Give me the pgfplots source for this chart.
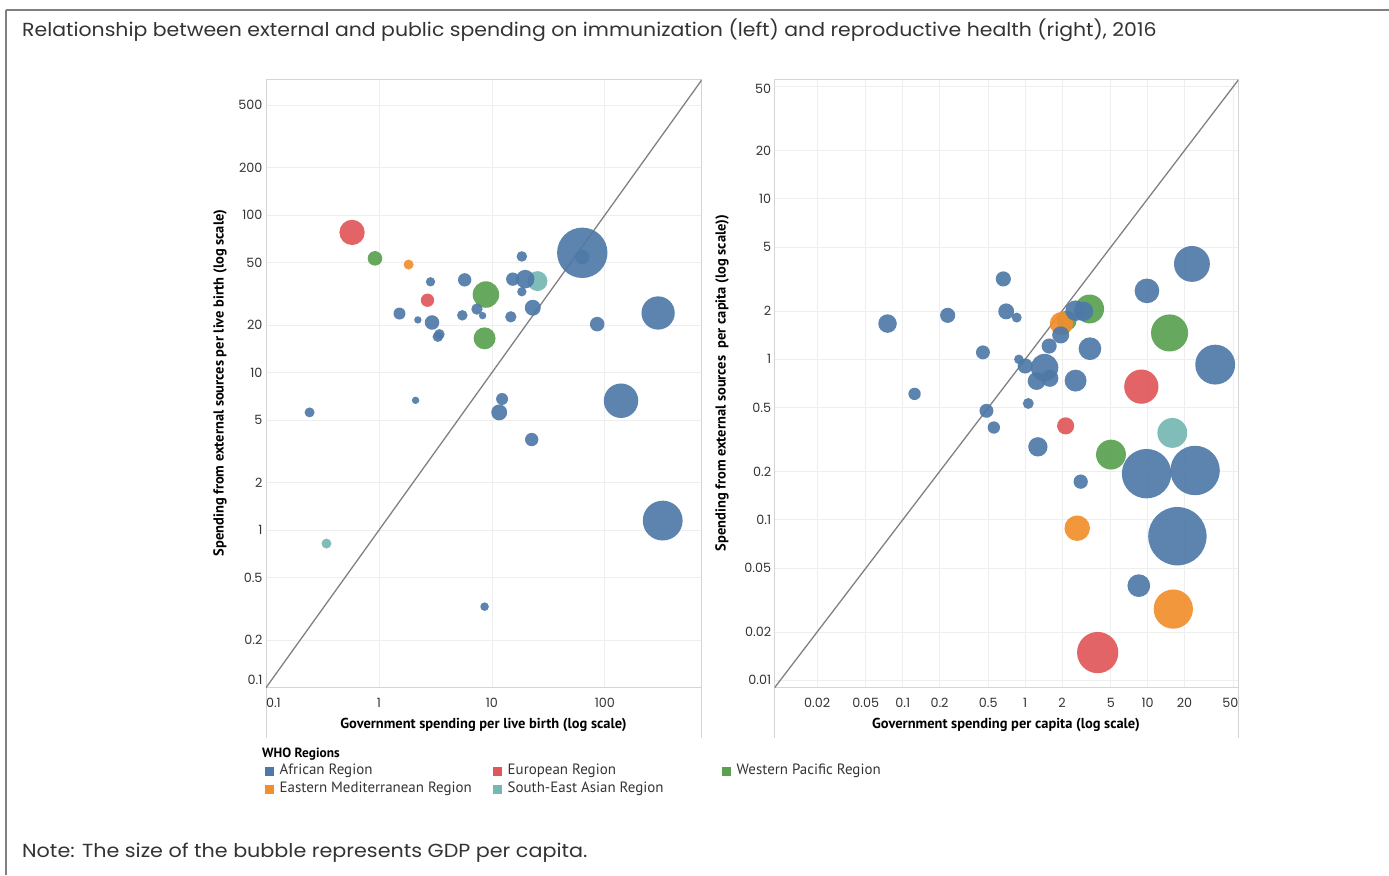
\documentclass[border=0pt]{standalone}
\usepackage{pgfplots}
\pgfplotsset{compat=1.18}
\usepackage{pgfplotstable}
\usepackage{fontspec}
\setmainfont{Poppins}
\newfontfamily\condfont{PT Sans}
\definecolor{afr}{HTML}{4E79A7}
\definecolor{eur}{HTML}{E15759}
\definecolor{emr}{HTML}{F28E2B}
\definecolor{sear}{HTML}{76B7B2}
\definecolor{wpr}{HTML}{59A14F}
\definecolor{framec}{HTML}{D4D4D4}
\definecolor{gridc}{HTML}{EEEEEE}
\definecolor{txt}{HTML}{333333}
\newcommand{\tfont}{\fontsize{12.8}{14}\selectfont}

% ---- left panel (immunization) ----
\pgfplotstableread{
x y r
2.86 37.7 4.7
5.74 38.8 6.7
1.52 23.7 6
2.21 21.6 3.7
2.95 20.8 7.3
3.43 17.5 5.3
3.32 16.9 5.3
5.47 23.1 5.3
7.37 25.3 5.7
8.27 23.0 3.7
14.7 22.6 5.7
15.3 39.2 6.7
18.4 54.6 5.3
18.4 32.6 4.7
19.7 39.2 9.3
23.0 25.8 8
63.1 57.6 25.3
63.1 54.3 7.3
85.5 20.3 7.3
296 23.9 16.7
139 6.63 17.3
12.3 6.80 6
11.6 5.59 8
2.11 6.67 3.7
0.243 5.59 5
22.5 3.76 6.7
325 1.15 20
8.61 0.327 4.3
}\LAfr
\pgfplotstableread{
x y r
0.578 77.6 12.7
2.69 28.8 6.7
}\LEur
\pgfplotstableread{
x y r
1.83 48.5 5
}\LEmr
\pgfplotstableread{
x y r
25.3 38.1 10
0.343 0.822 5
}\LSear
\pgfplotstableread{
x y r
0.922 53.1 7.3
8.85 31.3 13.3
8.61 16.5 11
}\LWpr

% ---- right panel (reproductive health) ----
\pgfplotstableread{
x y r
0.0752 1.67 9.3
0.233 1.88 7.6
0.663 3.17 7.6
0.700 1.99 8
0.853 1.82 5
0.452 1.105 7
9.87 2.67 12.4
23.0 3.93 18
35.6 0.927 20
2.58 2.01 10.3
3.0 1.99 9.7
1.95 1.42 8.6
1.57 1.21 7.6
3.38 1.165 11.4
0.888 1.0 4.8
1.0 0.909 7.6
1.44 0.888 13.8
1.24 0.733 9
1.59 0.762 8.6
2.58 0.737 11
0.125 0.609 6.2
0.483 0.478 7
1.06 0.531 5.5
0.555 0.376 6.2
1.27 0.285 9.7
9.8 0.194 24.8
24.4 0.203 24.8
2.84 0.173 7.2
17.5 0.0791 29.3
8.47 0.0389 11.4
}\RAfr
\pgfplotstableread{
x y r
8.88 0.676 17.2
2.14 0.385 8.6
3.91 0.0149 20.7
}\REur
\pgfplotstableread{
x y r
1.98 1.67 11.7
2.66 0.0887 12.8
16.2 0.0278 19.7
}\REmr
\pgfplotstableread{
x y r
15.9 0.348 15
}\RSear
\pgfplotstableread{
x y r
2.18 1.74 10
15.1 1.46 18.6
3.36 2.06 14.5
5.02 0.255 15
}\RWpr

\pgfplotsset{
  mybub/.style={scatter, only marks, mark=*,
    mark options={draw=#1, draw opacity=0, line width=0pt, fill=#1, fill opacity=0.92},
    point meta=\thisrow{r},
    visualization depends on={\thisrow{r}\as\rad},
    scatter/@pre marker code/.code={\scope[mark size=\rad pt, draw=#1, draw opacity=0, line width=0pt, fill=#1, fill opacity=0.92]},
    scatter/@post marker code/.code={\endscope}},
}

\begin{document}
\begin{tikzpicture}
\begin{scope}[x=1bp,y=1bp]
\useasboundingbox (0,0) rectangle (1389,875);
% outer frame (top and left)
\draw[draw=black!50, line width=1.6] (6,865) -- (1389,865);
\draw[draw=black!50, line width=1.6] (6,865) -- (6,0);
% title and note
\node[anchor=west, text=txt, font=\fontsize{19}{22}\selectfont, inner sep=0] at (22,845) {\scalebox{1.08}[1]{Relationship between external and public spending on immunization (left) and reproductive health (right), 2016}};
\node[anchor=west, text=txt, font=\fontsize{19}{22}\selectfont, inner sep=0] at (22,22) {\scalebox{1.093}[1]{Note: The size of the bubble represents GDP per capita.}};
% pane dividers below axes
\draw[draw=framec, line width=1] (266,187.3) -- (266,137);
\draw[draw=framec, line width=1] (701.7,187.3) -- (701.7,137);
\draw[draw=framec, line width=1] (774.6,187.3) -- (774.6,137);
\draw[draw=framec, line width=1] (1238.3,187.3) -- (1238.3,137);
% axis titles
\node[rotate=90, font=\condfont\bfseries\fontsize{14.5}{16}\selectfont, text=black] at (220,492) {Spending from external sources per live birth (log scale)};
\node[rotate=90, font=\condfont\bfseries\fontsize{14.5}{16}\selectfont, text=black] at (722,492) {Spending from external sources\ \ per capita (log scale))};
\node[font=\condfont\bfseries\fontsize{14.5}{16}\selectfont, text=black] at (483.5,150) {Government spending per live birth (log scale)};
\node[font=\condfont\bfseries\fontsize{14.5}{16}\selectfont, text=black] at (1006,150) {Government spending per capita (log scale)};
% legend
\node[anchor=west, font=\condfont\bfseries\fontsize{13.4}{15}\selectfont, text=black, inner sep=0] at (262,121) {WHO Regions};
\foreach \c/\t/\lx/\ly in {afr/African Region/265/104, emr/Eastern Mediterranean Region/265/86, eur/European Region/493/104, sear/South-East Asian Region/493/86, wpr/Western Pacific Region/722/104}{
  \fill[\c] (\lx,\ly-4.5) rectangle ++(9,9);
  \node[anchor=west, font=\condfont\fontsize{15}{17}\selectfont, text=txt, inner sep=0] at (\lx+14.5,\ly) {\t};
}
\end{scope}

% left axis
\begin{axis}[xmode=log, ymode=log, scale only axis,
  axis line style={draw=framec, line width=1pt},
  grid=major, major grid style={draw=gridc, line width=0.8pt},
  major tick length=0pt, tick style={draw=none},
  ticklabel style={font=\tfont, text=txt},
  xticklabel style={yshift=-7pt},
  at={(266bp,187.3bp)}, anchor=south west,
  width=435.7bp, height=607.7bp,
  xmin=0.1, xmax=720, ymin=0.1, ymax=720,
  xtick={0.1,1,10,100}, xticklabels={\makebox[0pt][l]{0.1},1,10,100},
  ytick={0.1,0.2,0.5,1,2,5,10,20,50,100,200,500},
  yticklabels={\raisebox{8pt}[\height][\depth]{0.1},0.2,0.5,1,2,5,10,20,50,100,200,500}]
\addplot[draw=black!50, line width=1.3pt] coordinates {(0.1,0.1) (720,720)};
\addplot[mybub=wpr] table {\LWpr};
\addplot[mybub=emr] table {\LEmr};
\addplot[mybub=eur] table {\LEur};
\addplot[mybub=sear] table {\LSear};
\addplot[mybub=afr] table {\LAfr};
\end{axis}

% right axis
\begin{axis}[xmode=log, ymode=log, scale only axis,
  axis line style={draw=framec, line width=1pt},
  grid=major, major grid style={draw=gridc, line width=0.8pt},
  major tick length=0pt, tick style={draw=none},
  ticklabel style={font=\tfont, text=txt},
  xticklabel style={yshift=-7pt},
  at={(774.6bp,187.3bp)}, anchor=south west,
  width=463.7bp, height=607.7bp,
  xmin=0.009, xmax=55, ymin=0.009, ymax=55,
  xtick={0.02,0.05,0.1,0.2,0.5,1,2,5,10,20,50},
  xticklabels={0.02,0.05,0.1,0.2,0.5,1,2,5,10,20,\makebox[0pt]{50\hspace{6pt}}},
  ytick={0.01,0.02,0.05,0.1,0.2,0.5,1,2,5,10,20,50},
  yticklabels={\raisebox{1pt}[\height][\depth]{0.01},0.02,0.05,0.1,0.2,0.5,1,2,5,10,20,\raisebox{-2.5pt}[\height][\depth]{50}}]
\addplot[draw=black!50, line width=1.3pt] coordinates {(0.009,0.009) (55,55)};
\addplot[mybub=wpr] table {\RWpr};
\addplot[mybub=emr] table {\REmr};
\addplot[mybub=eur] table {\REur};
\addplot[mybub=sear] table {\RSear};
\addplot[mybub=afr] table {\RAfr};
\end{axis}
\end{tikzpicture}
\end{document}
